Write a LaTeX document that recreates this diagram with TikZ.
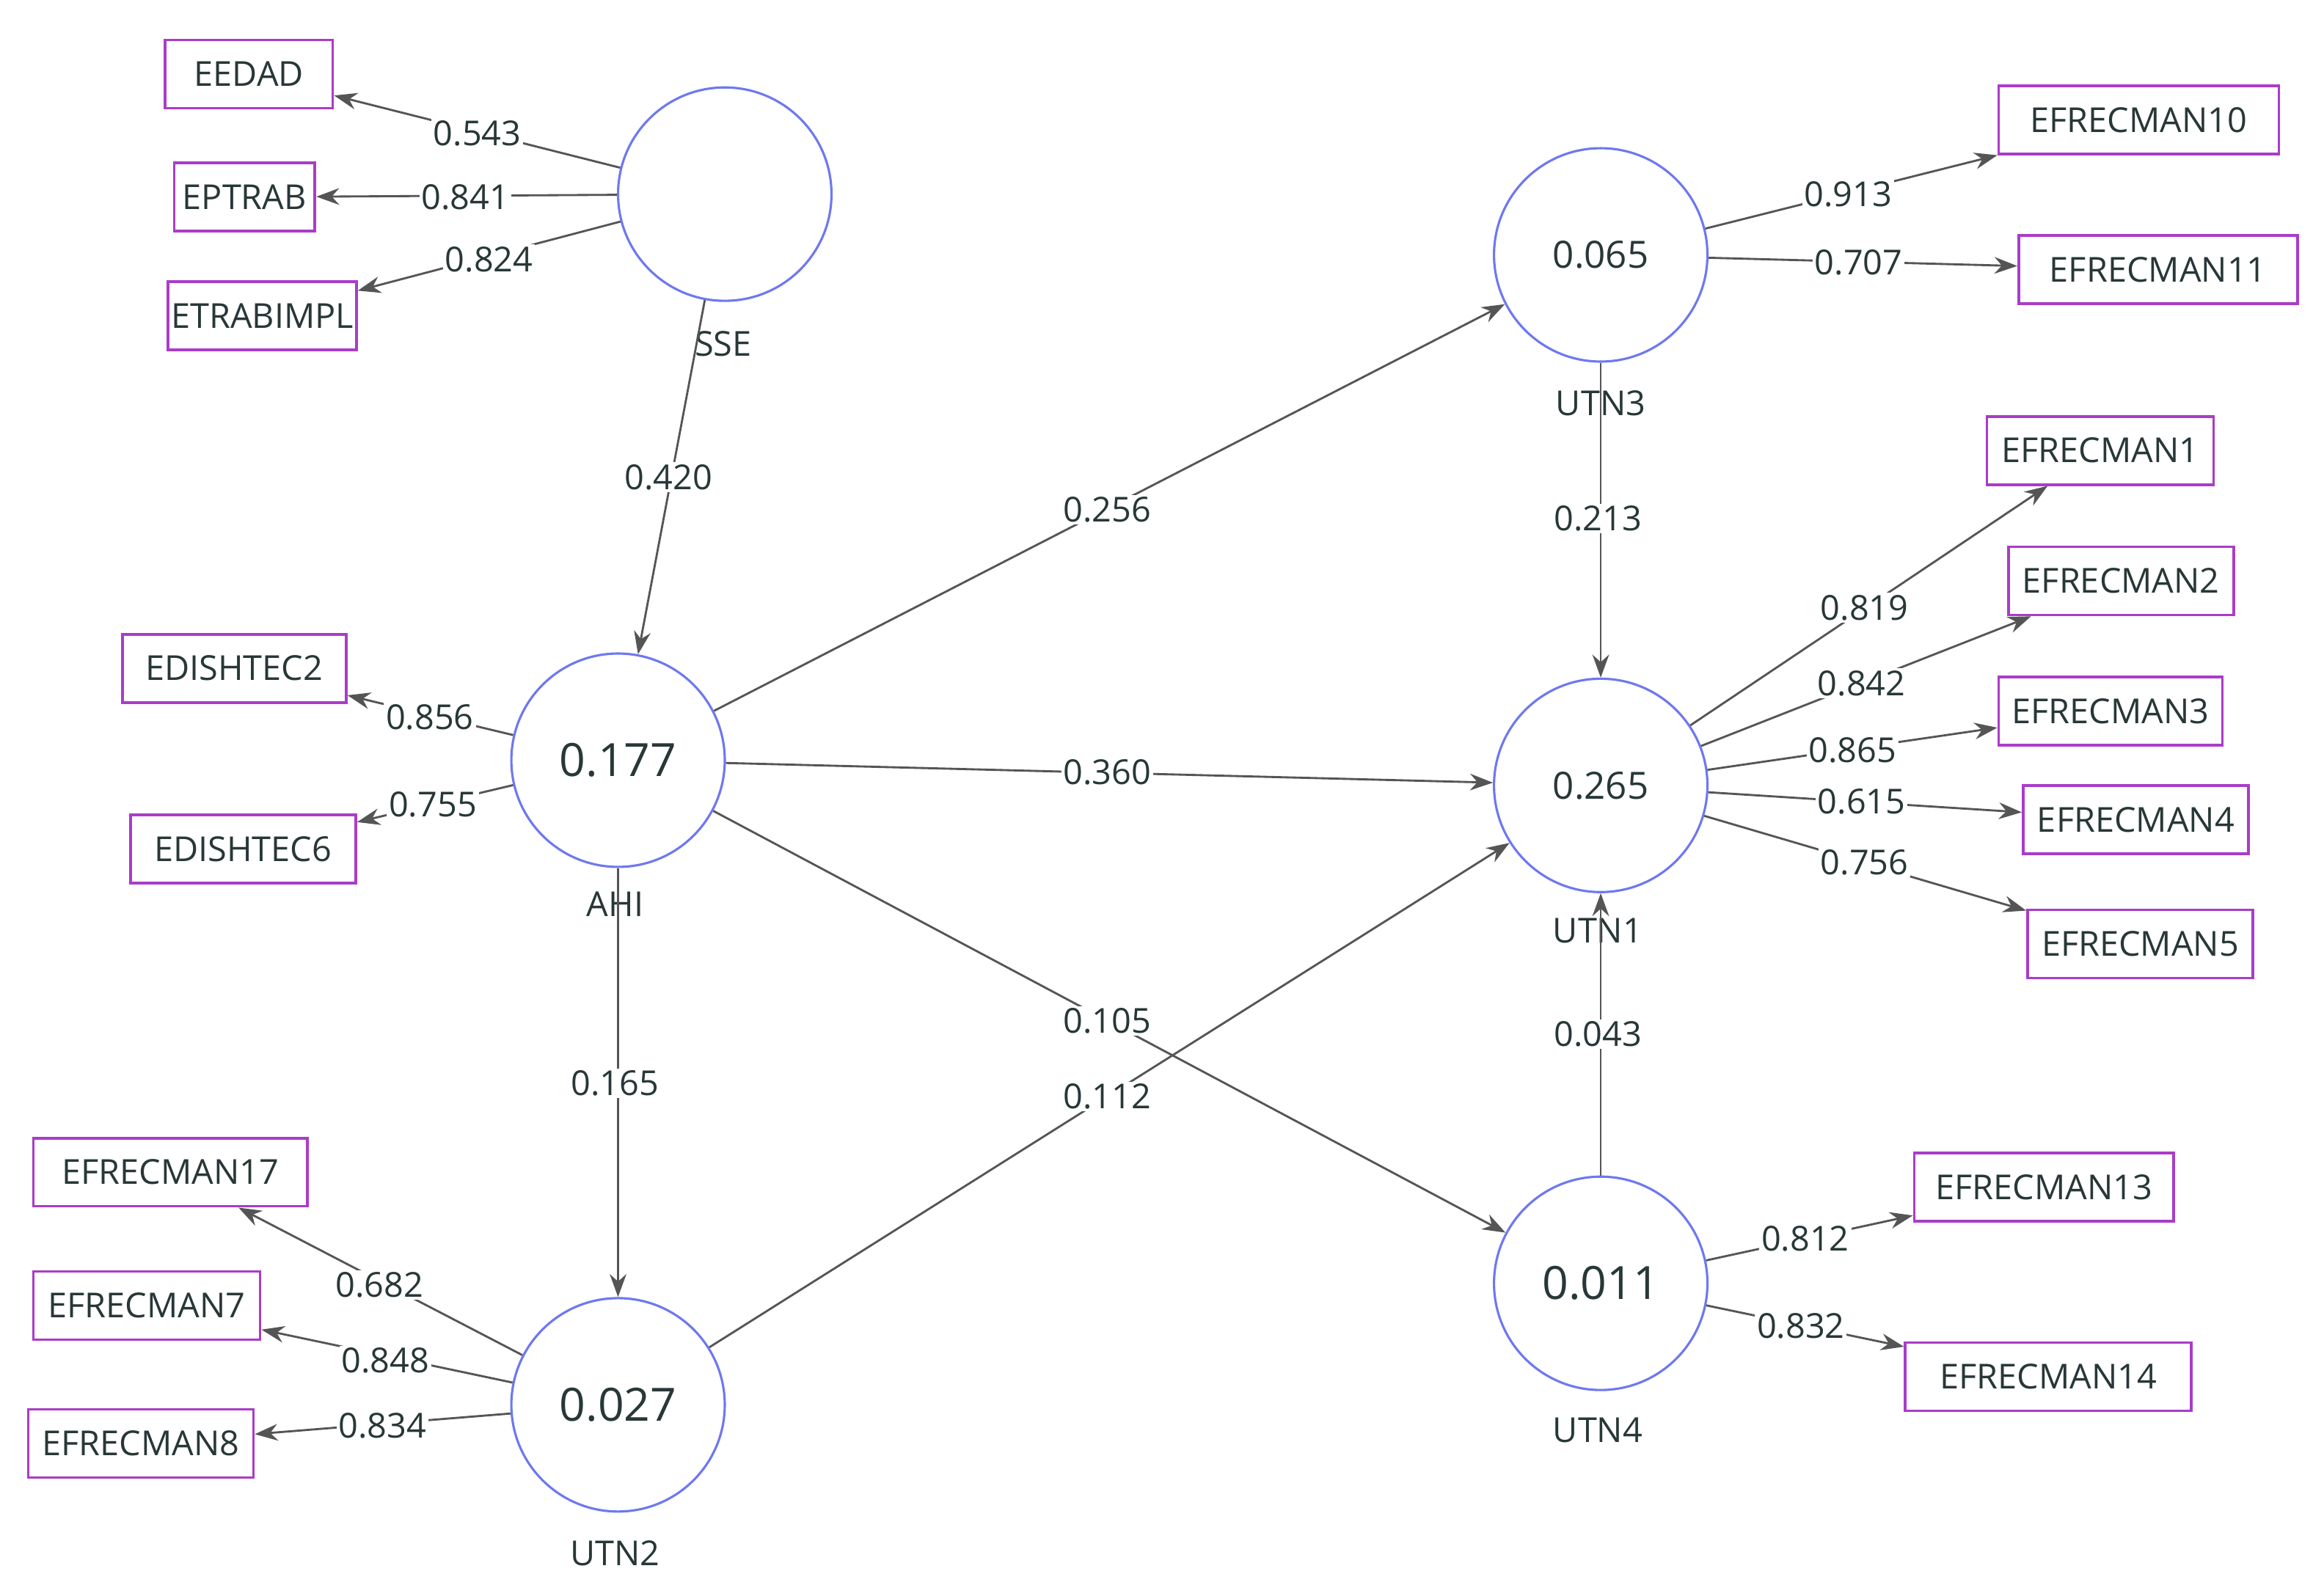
\documentclass[tikz,border=0pt]{standalone}
\usepackage{fontspec}
\setmainfont{Open Sans}
\usetikzlibrary{arrows.meta}
\definecolor{circ}{RGB}{110,120,240}
\definecolor{boxc}{RGB}{170,60,200}
\definecolor{txt}{RGB}{40,55,55}
\definecolor{ln}{RGB}{85,85,85}
\begin{document}
\begin{tikzpicture}[x=0.05cm,y=-0.05cm,
 lv/.style={circle,draw=circ,line width=2.2pt,minimum size=7.2cm,inner sep=0,text=txt,font=\fontsize{36}{40}\selectfont},
 big/.style={font=\fontsize{44}{48}\selectfont},
 mv/.style={draw=boxc,line width=2.6pt,minimum height=2.3cm,inner sep=0,text=txt,font=\fontsize{33}{38}\selectfont},
 nm/.style={text=txt,font=\fontsize{33}{38}\selectfont},
 lb/.style={fill=white,inner sep=2pt,text=txt,font=\fontsize{33}{38}\selectfont},
 ar/.style={draw=ln,line width=2pt,-{Stealth[length=22pt,width=16pt]}}]
\useasboundingbox[fill=white] (0,0) rectangle (1568,1077);
% latent variables
\node[lv] (SSE) at (489,131) {};
\node[lv] (UTN3) at (1080,172) {0.065};
\node[lv,big] (AHI) at (417,513) {0.177};
\node[lv] (UTN1) at (1080,530) {0.265};
\node[lv,big] (UTN4) at (1080,866) {0.011};
\node[lv,big] (UTN2) at (417,948) {0.027};
\node[nm] (tSSE) at (488,232) {SSE};
\node[nm] (tUTN3) at (1080,272) {UTN3};
\node[nm] (tAHI) at (415,610) {AHI};
\node[nm] (tUTN1) at (1078,628) {UTN1};
\node[nm] (tUTN4) at (1078,965) {UTN4};
\node[nm] (tUTN2) at (415,1048) {UTN2};
% indicators
\node[mv,minimum width=113*0.05cm] (EEDAD) at (168,50) {EEDAD};
\node[mv,minimum width=95*0.05cm] (EPTRAB) at (165,133) {EPTRAB};
\node[mv,minimum width=127*0.05cm] (ETRABIMPL) at (177,213) {ETRABIMPL};
\node[mv,minimum width=151*0.05cm] (EDISHTEC2) at (158,451) {EDISHTEC2};
\node[mv,minimum width=152*0.05cm] (EDISHTEC6) at (164,573) {EDISHTEC6};
\node[mv,minimum width=185*0.05cm] (E17) at (115,791) {EFRECMAN17};
\node[mv,minimum width=153*0.05cm] (E7) at (99,881) {EFRECMAN7};
\node[mv,minimum width=152*0.05cm] (E8) at (95,974) {EFRECMAN8};
\node[mv,minimum width=189*0.05cm] (E10) at (1443,81) {EFRECMAN10};
\node[mv,minimum width=188*0.05cm] (E11) at (1456,182) {EFRECMAN11};
\node[mv,minimum width=153*0.05cm] (E1) at (1417,304) {EFRECMAN1};
\node[mv,minimum width=152*0.05cm] (E2) at (1431,392) {EFRECMAN2};
\node[mv,minimum width=151*0.05cm] (E3) at (1424,480) {EFRECMAN3};
\node[mv,minimum width=152*0.05cm] (E4) at (1441,553) {EFRECMAN4};
\node[mv,minimum width=152*0.05cm] (E5) at (1444,637) {EFRECMAN5};
\node[mv,minimum width=175*0.05cm] (E13) at (1379,801) {EFRECMAN13};
\node[mv,minimum width=193*0.05cm] (E14) at (1382,929) {EFRECMAN14};
% arrows
\foreach \a/\b in {SSE/EEDAD,SSE/EPTRAB,SSE/ETRABIMPL,AHI/EDISHTEC2,AHI/EDISHTEC6,
 UTN2/E17,UTN2/E7,UTN2/E8,UTN3/E10,UTN3/E11,UTN1/E1,UTN1/E2,UTN1/E3,UTN1/E4,UTN1/E5,
 UTN4/E13,UTN4/E14,SSE/AHI,AHI/UTN3,AHI/UTN1,AHI/UTN4,AHI/UTN2,UTN3/UTN1,UTN4/UTN1,UTN2/UTN1}
 \draw[ar] (\a) -- (\b);
% labels
\foreach \p/\t in {{(322,90)}/0.543,{(314,133)}/0.841,{(330,175)}/0.824,{(451,322)}/0.420,
 {(290,484)}/0.856,{(292,543)}/0.755,{(747,344)}/0.256,{(747,521)}/0.360,{(747,689)}/0.105,
 {(747,740)}/0.112,{(415,731)}/0.165,{(256,867)}/0.682,{(260,918)}/0.848,{(258,962)}/0.834,
 {(1247,131)}/0.913,{(1254,177)}/0.707,{(1078,350)}/0.213,{(1258,410)}/0.819,{(1256,461)}/0.842,
 {(1250,506)}/0.865,{(1256,541)}/0.615,{(1258,582)}/0.756,{(1078,698)}/0.043,{(1218,836)}/0.812,
 {(1215,895)}/0.832}
 \node[lb] at \p {\t};
\end{tikzpicture}
\end{document}
